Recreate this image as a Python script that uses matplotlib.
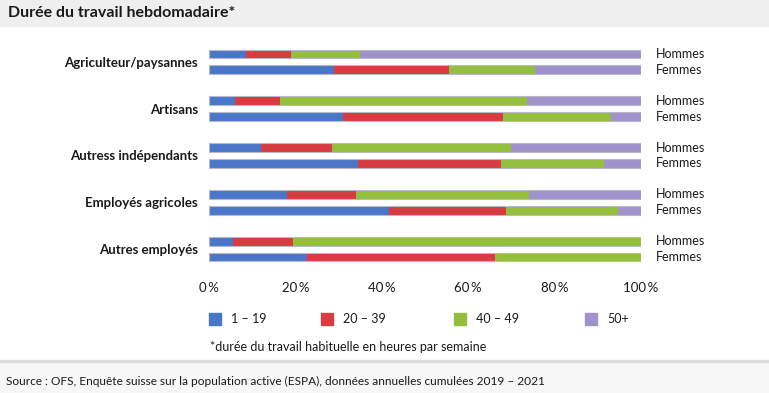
import matplotlib.pyplot as plt
from matplotlib.patches import Rectangle
import numpy as np

plt.rcParams['font.family'] = ['Lato', 'DejaVu Sans']

categories = ['Agriculteur/paysannes', 'Artisans', 'Autress indépendants',
              'Employés agricoles', 'Autres employés']
sexes = ['Hommes', 'Femmes']
series = ['1 – 19', '20 – 39', '40 – 49', '50+']
colors = ['#4a76c9', '#d83c41', '#93bf3c', '#a093cc']

# parts in %, rows: category x (Hommes, Femmes)
h_1_19 = [8.5, 6.0, 12.0, 18.0, 5.5]
h_20_39 = [10.5, 10.5, 16.5, 16.0, 14.0]
h_40_49 = [16.0, 57.0, 41.5, 40.0, 80.5]
h_50 = [65.0, 26.5, 30.0, 26.0, 0.0]
f_1_19 = [29.0, 31.0, 34.5, 41.7, 22.8]
f_20_39 = [26.5, 37.0, 33.0, 27.0, 43.4]
f_40_49 = [20.0, 25.0, 24.0, 26.0, 33.8]
f_50 = [24.5, 7.0, 8.5, 5.3, 0.0]
xticks = [0, 20, 40, 60, 80, 100]

W, H = 769, 393
fig = plt.figure(figsize=(W / 100, H / 100), dpi=100)
fig.patch.set_facecolor('white')

# header strip and source strip
fig.patches.append(Rectangle((0, 1 - 26 / H), 1, 26 / H, transform=fig.transFigure,
                             color='#efefef', zorder=0))
fig.patches.append(Rectangle((0, 0), 1, 31 / H, transform=fig.transFigure,
                             color='#f7f7f7', zorder=0))
fig.patches.append(Rectangle((0, 31 / H), 1, 2 / H, transform=fig.transFigure,
                             color='#dddddd', zorder=0))

ax = fig.add_axes([209 / W, 1 - 272.4 / H, 432 / W, 233.8 / H])
ax.set_facecolor('none')

y = np.arange(len(categories))
offs = 0.17
hgt = 0.19
men = [h_1_19, h_20_39, h_40_49, h_50]
women = [f_1_19, f_20_39, f_40_49, f_50]
for pos, data in [(y - offs, men), (y + offs, women)]:
    left = np.zeros(len(categories))
    for vals, c in zip(data, colors):
        ax.barh(pos, vals, left=left, height=hgt, color=c, edgecolor='none')
        left += np.array(vals)
    for p in pos:
        ax.add_patch(Rectangle((0, p - hgt / 2), 100, hgt, fill=False,
                               ec='#b8b8c8', lw=0.8))

ax.set_xlim(0, 100)
ax.set_ylim(len(categories) - 0.5, -0.5)
ax.set_xticks(xticks, labels=[f'{t}\u2009%' for t in xticks])
ax.set_yticks(y, labels=categories)
for lab in ax.get_yticklabels():
    lab.set_fontweight('bold')
ax.tick_params(axis='y', length=0, pad=8, labelsize=9.5, labelcolor='#1a1a1a')
ax.tick_params(axis='x', length=0, pad=7, labelsize=9.5, labelcolor='#1a1a1a')
for s in ax.spines.values():
    s.set_visible(False)

for i in y:
    ax.text(103.5, i - offs, sexes[0], va='center', ha='left', fontsize=9, color='#1a1a1a')
    ax.text(103.5, i + offs, sexes[1], va='center', ha='left', fontsize=9, color='#1a1a1a')

# legend
leg_x = [209, 321, 454, 585]
for lx, lab, c in zip(leg_x, series, colors):
    fig.patches.append(Rectangle((lx / W, 1 - 325 / H), 12 / W, 12 / H,
                                 transform=fig.transFigure, color=c))
    fig.text((lx + 22) / W, 1 - 319 / H, lab, va='center', ha='left', fontsize=9,
             color='#1a1a1a')

fig.text(210 / W, 1 - 347 / H, '*durée du travail habituelle en heures par semaine',
         va='center', ha='left', fontsize=9, color='#1a1a1a')
fig.text(8 / W, 1 - 13 / H, 'Durée du travail hebdomadaire*', va='center', ha='left',
         fontsize=11.5, fontweight='bold', color='#1a1a1a')
fig.text(6 / W, 1 - 381 / H,
         'Source : OFS, Enquête suisse sur la population active (ESPA), données annuelles cumulées 2019 – 2021',
         va='center', ha='left', fontsize=8.6, color='#1a1a1a')

fig.savefig('out.png', dpi=100)
